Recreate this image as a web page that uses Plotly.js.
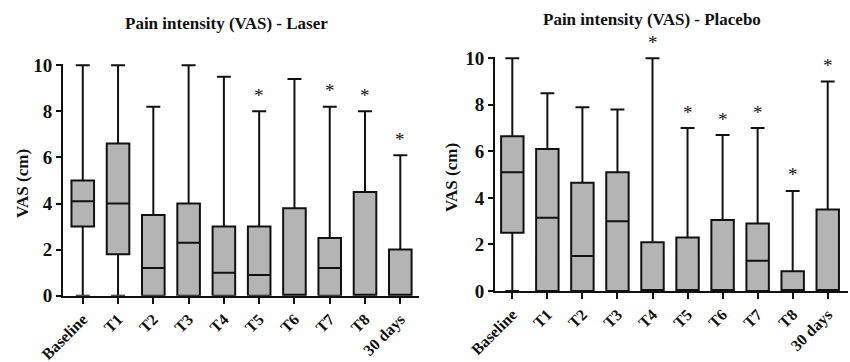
<!DOCTYPE html>
<html>
<head>
<meta charset="utf-8">
<script src="https://cdn.plot.ly/plotly-3.0.1.min.js"></script>
<style>html,body{margin:0;padding:0;background:#fff;}#chart{width:850px;height:362px;}</style>
</head>
<body>
<div id="chart"></div>
<script>
const categories = ['Baseline','T1','T2','T3','T4','T5','T6','T7','T8','30 days'];

// Laser group
const laserMin    = [0, 0, 0, 0, 0, 0, 0, 0, 0, 0];
const laserQ1     = [3.0, 1.8, 0, 0, 0, 0, 0, 0, 0, 0];
const laserMedian = [4.1, 4.0, 1.2, 2.3, 1.0, 0.9, 0, 1.2, 0, 0];
const laserQ3     = [5.0, 6.6, 3.5, 4.0, 3.0, 3.0, 3.8, 2.5, 4.5, 2.0];
const laserMax    = [10, 10, 8.2, 10, 9.5, 8.0, 9.4, 8.2, 8.0, 6.1];
const laserSig    = [false, false, false, false, false, true, false, true, true, true];

// Placebo group
const placeboMin    = [0, 0, 0, 0, 0, 0, 0, 0, 0, 0];
const placeboQ1     = [2.5, 0, 0, 0, 0, 0, 0, 0, 0, 0];
const placeboMedian = [5.1, 3.15, 1.5, 3.0, 0, 0, 0, 1.3, 0, 0];
const placeboQ3     = [6.65, 6.1, 4.65, 5.1, 2.1, 2.3, 3.05, 2.9, 0.85, 3.5];
const placeboMax    = [10, 8.5, 7.9, 7.8, 10, 7.0, 6.7, 7.0, 4.3, 9.0];
const placeboSig    = [false, false, false, false, true, true, true, true, true, true];

const yTicks = [0, 2, 4, 6, 8, 10];
const titles = ['Pain intensity (VAS) - Laser', 'Pain intensity (VAS) - Placebo'];
const yTitle = 'VAS (cm)';

const FONT = 'Liberation Serif, Times New Roman, serif';

function boxTrace(q1, med, q3, lo, hi, xa, ya) {
  return {
    type: 'box',
    x: categories,
    q1: q1, median: med, q3: q3, lowerfence: lo, upperfence: hi,
    xaxis: xa, yaxis: ya,
    fillcolor: '#b4b4b4',
    line: {color: '#111111', width: 2},
    width: 0.64,
    whiskerwidth: 0.62,
    boxpoints: false,
    hoverinfo: 'skip',
    showlegend: false
  };
}

const data = [
  boxTrace(laserQ1, laserMedian, laserQ3, laserMin, laserMax, 'x', 'y'),
  boxTrace(placeboQ1, placeboMedian, placeboQ3, placeboMin, placeboMax, 'x2', 'y2')
];

const annotations = [];
categories.forEach((c, i) => {
  if (laserSig[i]) annotations.push({x: c, y: laserMax[i], xref: 'x', yref: 'y', text: '*', showarrow: false,
    yshift: 16, font: {family: FONT, size: 19, color: '#111'}});
  if (placeboSig[i]) annotations.push({x: c, y: placeboMax[i], xref: 'x2', yref: 'y2', text: '*', showarrow: false,
    yshift: 16, font: {family: FONT, size: 19, color: '#111'}});
});
annotations.push({x: 227/850, y: 1 - 23/362, xref: 'paper', yref: 'paper', text: '<b>' + titles[0] + '</b>',
  showarrow: false, xanchor: 'center', yanchor: 'middle', font: {family: FONT, size: 17, color: '#111'}});
annotations.push({x: 652/850, y: 1 - 20/362, xref: 'paper', yref: 'paper', text: '<b>' + titles[1] + '</b>',
  showarrow: false, xanchor: 'center', yanchor: 'middle', font: {family: FONT, size: 17, color: '#111'}});
annotations.push({x: 22/850, y: 1 - 184/362, xref: 'paper', yref: 'paper', text: '<b>' + yTitle + '</b>', textangle: -90,
  showarrow: false, xanchor: 'center', yanchor: 'middle', font: {family: FONT, size: 17, color: '#111'}});
annotations.push({x: 451/850, y: 1 - 178/362, xref: 'paper', yref: 'paper', text: '<b>' + yTitle + '</b>', textangle: -90,
  showarrow: false, xanchor: 'center', yanchor: 'middle', font: {family: FONT, size: 17, color: '#111'}});

function xaxisCfg(extra) {
  return Object.assign({
    type: 'category', showgrid: false, zeroline: false,
    showline: true, linecolor: '#111', linewidth: 2,
    ticks: 'outside', ticklen: 6, tickwidth: 2, tickcolor: '#111',
    tickangle: -45, tickfont: {family: FONT, size: 16, color: '#111', weight: 'bold'},
    fixedrange: true
  }, extra);
}
function yaxisCfg(extra) {
  return Object.assign({
    range: [0, 10.05], tickvals: yTicks, ticktext: yTicks.map(String),
    showgrid: false, zeroline: false,
    showline: true, linecolor: '#111', linewidth: 2,
    ticks: 'outside', ticklen: 5, tickwidth: 2, tickcolor: '#111',
    tickfont: {family: FONT, size: 19, color: '#111', weight: 'bold'},
    fixedrange: true
  }, extra);
}

const layout = {
  width: 850, height: 362,
  margin: {l: 0, r: 0, t: 0, b: 0},
  paper_bgcolor: '#fff', plot_bgcolor: '#fff',
  showlegend: false,
  font: {family: FONT},
  xaxis: xaxisCfg({domain: [63/850, 419/850], range: [-0.56, 9.53], anchor: 'y'}),
  yaxis: yaxisCfg({domain: [(362-295.7)/362, (362-64.1)/362], anchor: 'x'}),
  xaxis2: xaxisCfg({domain: [495/850, 847.7/850], range: [-0.494, 9.57], anchor: 'y2'}),
  yaxis2: yaxisCfg({domain: [(362-291)/362, (362-57.1)/362], anchor: 'x2'}),
  annotations: annotations
};

Plotly.newPlot('chart', data, layout, {staticPlot: true, displayModeBar: false});
</script>
</body>
</html>
